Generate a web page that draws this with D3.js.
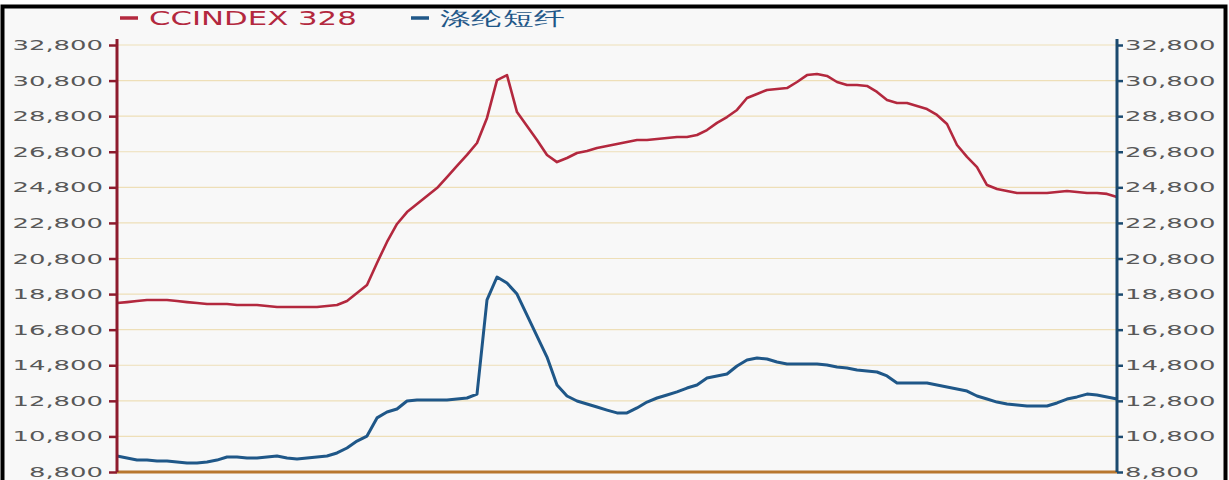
<!DOCTYPE html>
<html>
<head>
<meta charset="utf-8">
<script src="https://cdn.jsdelivr.net/npm/d3@7"></script>
<style>
  html, body { margin: 0; padding: 0; background: #fff; }
  svg { display: block; }
</style>
</head>
<body>
<svg id="chart"></svg>
<script>
// series names
const seriesNames = ["CCINDEX 328", "涤纶短纤"];

// CCINDEX 328 (red)
const ccindex = [
  18300, 18350, 18410, 18470, 18470, 18470, 18410, 18350, 18300, 18240,
  18240, 18240, 18190, 18190, 18190, 18130, 18070, 18070, 18070, 18070,
  18070, 18130, 18190, 18410, 18860, 19310, 20550, 21730, 22740, 23410,
  23860, 24310, 24760, 25380, 26000, 26620, 27290, 28700, 30830, 31110,
  29030, 28250, 27460, 26620, 26220, 26450, 26730, 26840, 27010, 27120,
  27240, 27350, 27460, 27460, 27520, 27570, 27630, 27630, 27740, 28020,
  28420, 28750, 29150, 29820, 30050, 30270, 30330, 30380, 30720, 31110,
  31170, 31060, 30720, 30550, 30550, 30500, 30160, 29710, 29540, 29540,
  29370, 29200, 28870, 28360, 27180, 26510, 25940, 24930, 24710, 24590,
  24480, 24480, 24480, 24480, 24540, 24590, 24540, 24480, 24480, 24430,
  24260
];

// 涤纶短纤 (blue)
const polyester = [
  9700, 9590, 9470, 9470, 9420, 9420, 9360, 9310, 9310, 9360,
  9470, 9640, 9640, 9590, 9590, 9640, 9700, 9590, 9530, 9590,
  9640, 9700, 9870, 10150, 10540, 10820, 11840, 12170, 12340, 12790,
  12850, 12850, 12850, 12850, 12900, 12960, 13180, 18470, 19760, 19420,
  18800, 17620, 16440, 15260, 13690, 13070, 12790, 12620, 12450, 12280,
  12120, 12120, 12400, 12730, 12960, 13130, 13300, 13520, 13690, 14080,
  14200, 14310, 14760, 15100, 15210, 15150, 14980, 14870, 14870, 14870,
  14870, 14810, 14700, 14650, 14530, 14480, 14420, 14200, 13800, 13800,
  13800, 13800, 13690, 13580, 13470, 13350, 13070, 12900, 12730, 12620,
  12570, 12510, 12510, 12510, 12680, 12900, 13020, 13180, 13130, 13020,
  12900
];

// y-axis tick labels (same on both sides)
const yTicks = [8800, 10800, 12800, 14800, 16800, 18800, 20800, 22800, 24800, 26800, 28800, 30800, 32800];

const width = 1229, height = 480;
const margin = { top: 45, right: 112, bottom: 8, left: 117 };

const svg = d3.select("#chart").attr("width", width).attr("height", height);

// frame
svg.append("rect")
  .attr("x", 2.5).attr("y", 6.5)
  .attr("width", 1223).attr("height", 600)
  .attr("fill", "#f8f8f8")
  .attr("stroke", "#000")
  .attr("stroke-width", 4);

const x = d3.scaleLinear()
  .domain([0, ccindex.length - 1])
  .range([margin.left, width - margin.right]);

const y = d3.scaleLinear()
  .domain([8800, 32800])
  .range([height - margin.bottom, margin.top]);

const fmt = d3.format(",");
const stretch = 1.85; // the picture is horizontally stretched

// grid lines
svg.append("g")
  .selectAll("line")
  .data(yTicks.slice(1))
  .join("line")
  .attr("x1", x.range()[0]).attr("x2", x.range()[1])
  .attr("y1", d => y(d)).attr("y2", d => y(d))
  .attr("stroke", "#eedfb8")
  .attr("stroke-width", 1.2);

// lines
const line = d3.line()
  .x((d, i) => x(i))
  .y(d => y(d));

svg.append("path")
  .datum(polyester)
  .attr("fill", "none")
  .attr("stroke", "#1f5788")
  .attr("stroke-width", 3)
  .attr("stroke-linejoin", "round")
  .attr("d", line);

svg.append("path")
  .datum(ccindex)
  .attr("fill", "none")
  .attr("stroke", "#b3283e")
  .attr("stroke-width", 2.6)
  .attr("stroke-linejoin", "round")
  .attr("d", line);

// bottom axis line
svg.append("line")
  .attr("x1", x.range()[0]).attr("x2", x.range()[1])
  .attr("y1", y(8800)).attr("y2", y(8800))
  .attr("stroke", "#b8772f")
  .attr("stroke-width", 3);

// left axis (red)
const leftAxis = svg.append("g")
  .attr("transform", `translate(${x.range()[0]},0)`)
  .call(d3.axisLeft(y).tickValues(yTicks).tickSize(8).tickFormat(""));
leftAxis.select(".domain").attr("stroke", "#8e1b2d").attr("stroke-width", 3)
  .attr("d", `M0,${y(32800) - 6}V${y(8800)}`);
leftAxis.selectAll(".tick line").attr("stroke", "#8e1b2d").attr("stroke-width", 2.5);

// right axis (blue)
const rightAxis = svg.append("g")
  .attr("transform", `translate(${x.range()[1]},0)`)
  .call(d3.axisRight(y).tickValues(yTicks).tickSize(6).tickFormat(""));
rightAxis.select(".domain").attr("stroke", "#1b4a6f").attr("stroke-width", 3)
  .attr("d", `M0,${y(32800) - 6}V${y(8800)}`);
rightAxis.selectAll(".tick line").attr("stroke", "#1b4a6f").attr("stroke-width", 2.5);

// text drawn stretched like the picture
function stretchedText(g, tx, ty, txt, anchor, size, color, sx) {
  g.append("text")
    .attr("transform", `translate(${tx},${ty}) scale(${sx},1)`)
    .attr("text-anchor", anchor)
    .attr("font-family", "Verdana, 'DejaVu Sans', sans-serif")
    .attr("font-size", size)
    .attr("fill", color)
    .text(txt);
}

const labels = svg.append("g");
yTicks.forEach(v => {
  stretchedText(labels, x.range()[0] - 14, y(v) + 5, fmt(v), "end", 14, "#585858", stretch);
  stretchedText(labels, x.range()[1] + 8, y(v) + 5, fmt(v), "start", 14, "#585858", stretch);
});

// legend
const legend = svg.append("g");
const legendItems = [
  { name: seriesNames[0], color: "#b3283e", x0: 120 },
  { name: seriesNames[1], color: "#1f5788", x0: 411 }
];
legendItems.forEach(d => {
  legend.append("line")
    .attr("x1", d.x0).attr("x2", d.x0 + 18)
    .attr("y1", 18).attr("y2", 18)
    .attr("stroke", d.color)
    .attr("stroke-width", 3.5);
  stretchedText(legend, d.x0 + 29, 25, d.name, "start", 19, d.color, 1.62);
});
</script>
</body>
</html>
